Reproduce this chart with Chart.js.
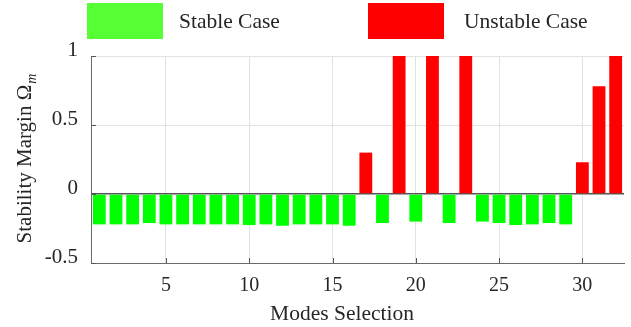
<!DOCTYPE html>
<html><head><meta charset="utf-8">
<script src="https://cdn.jsdelivr.net/npm/chart.js@4.4.1/dist/chart.umd.min.js"></script>
<style>html,body{margin:0;padding:0;background:#fff;overflow:hidden}#wrap{width:631px;height:327px}</style>
</head><body><div id="wrap"><canvas id="c" width="631" height="327"></canvas></div>
<script>
// ---- data ----
const modes = ['1','2','3','4','5','6','7','8','9','10','11','12','13','14','15','16',
               '17','18','19','20','21','22','23','24','25','26','27','28','29','30','31','32'];
const stableValues = [-0.22,-0.22,-0.22,-0.21,-0.22,-0.22,-0.22,-0.22,-0.22,-0.225,-0.22,-0.23,-0.22,-0.22,-0.22,-0.23,
                      null,-0.21,null,-0.20,null,-0.21,null,-0.20,-0.21,-0.225,-0.22,-0.21,-0.22,null,null,null];
const unstableValues = [null,null,null,null,null,null,null,null,null,null,null,null,null,null,null,null,
                        0.30,null,1.0,null,1.0,null,1.0,null,null,null,null,null,null,0.23,0.78,1.0];
const xTickLabels = ['5','10','15','20','25','30'];
const yTickValues = [-0.5, 0, 0.5, 1];
const seriesNames = ['Stable Case', 'Unstable Case'];
const xTitle = 'Modes Selection';
const yTitleMain = 'Stability Margin \u03A9';
const yTitleSub = 'm';

// ---- styles ----
const SERIF = '"Liberation Serif","Times New Roman",serif';
const TEXT = '#262626';
const AXIS = '#6a6a6a';
const GRID = '#e2e2e2';
const legendColors = ['#55ff33', '#ff0000'];

const overlay = {
  id: 'overlay',
  afterDraw(chart) {
    const ctx = chart.ctx, a = chart.chartArea;
    const xs = chart.scales.x, ys = chart.scales.y;
    ctx.save();
    // inward tick marks
    ctx.strokeStyle = '#555';
    ctx.lineWidth = 1;
    xs.ticks.forEach((t, i) => {
      const lab = xs.getLabelForValue(t.value);
      if (!xTickLabels.includes(lab)) return;
      const px = Math.round(xs.getPixelForTick(i)) + 0.5;
      ctx.beginPath(); ctx.moveTo(px, a.bottom); ctx.lineTo(px, a.bottom - 5); ctx.stroke();
    });
    ys.ticks.forEach((t, i) => {
      const py = Math.round(ys.getPixelForTick(i)) + 0.5;
      ctx.beginPath(); ctx.moveTo(a.left, py); ctx.lineTo(a.left + 5, py); ctx.stroke();
    });
    // legend
    const boxes = [{x: 87, tx: 179}, {x: 368, tx: 464}];
    ctx.font = '21.5px ' + SERIF;
    ctx.textBaseline = 'alphabetic';
    ctx.textAlign = 'left';
    chart.data.datasets.forEach((ds, i) => {
      ctx.fillStyle = legendColors[i];
      ctx.fillRect(boxes[i].x, 3, 76, 36);
      ctx.fillStyle = TEXT;
      ctx.fillText(ds.label, boxes[i].tx, 28);
    });
    // x title
    ctx.font = '21.5px ' + SERIF;
    ctx.textAlign = 'center';
    ctx.fillText(xTitle, 342, 320);
    // y title with subscript
    ctx.translate(31, 159);
    ctx.rotate(-Math.PI / 2);
    ctx.font = '21px ' + SERIF;
    const w1 = ctx.measureText(yTitleMain).width;
    ctx.font = 'italic 14px ' + SERIF;
    const w2 = ctx.measureText(yTitleSub).width;
    const start = -(w1 + w2) / 2;
    ctx.textAlign = 'left';
    ctx.font = '21px ' + SERIF;
    ctx.fillText(yTitleMain, start, 0);
    ctx.font = 'italic 14px ' + SERIF;
    ctx.fillText(yTitleSub, start + w1 + 1, 5);
    ctx.restore();
  }
};

new Chart(document.getElementById('c'), {
  type: 'bar',
  data: {
    labels: modes,
    datasets: [
      { label: seriesNames[0], data: stableValues, backgroundColor: '#00ff00', grouped: false,
        barPercentage: 0.77, categoryPercentage: 1 },
      { label: seriesNames[1], data: unstableValues, backgroundColor: '#ff0000', grouped: false,
        barPercentage: 0.77, categoryPercentage: 1 }
    ]
  },
  options: {
    responsive: false,
    animation: false,
    devicePixelRatio: 1,
    layout: { padding: { top: 56, right: 7, left: 0, bottom: 0 } },
    plugins: { legend: { display: false }, tooltip: { enabled: false }, title: { display: false } },
    scales: {
      x: {
        type: 'category',
        offset: true,
        grid: {
          offset: false,
          drawTicks: false,
          color: c => (c.tick && xTickLabels.includes(modes[c.index])) ? GRID : 'rgba(0,0,0,0)'
        },
        border: { color: AXIS, width: 1 },
        ticks: {
          autoSkip: false, maxRotation: 0, minRotation: 0, padding: 11,
          color: TEXT, font: { family: SERIF, size: 20 },
          callback: function (v) { const l = this.getLabelForValue(v); return xTickLabels.includes(l) ? l : ''; }
        },
        afterFit: s => { s.height = 64; }
      },
      y: {
        type: 'linear',
        min: yTickValues[0], max: yTickValues[yTickValues.length - 1],
        afterBuildTicks: s => { s.ticks = yTickValues.map(v => ({ value: v })); },
        grid: {
          drawTicks: false,
          color: c => c.tick.value === 0 ? '#555555' : (c.tick.value === yTickValues[0] ? 'rgba(0,0,0,0)' : GRID),
          lineWidth: c => c.tick.value === 0 ? 1.5 : 1
        },
        border: { color: AXIS, width: 1 },
        ticks: {
          padding: 13, labelOffset: -6,
          color: TEXT, font: { family: SERIF, size: 21 },
          callback: v => String(v)
        },
        afterFit: s => { s.width = 91; }
      }
    }
  },
  plugins: [overlay]
});
</script>
</body></html>
